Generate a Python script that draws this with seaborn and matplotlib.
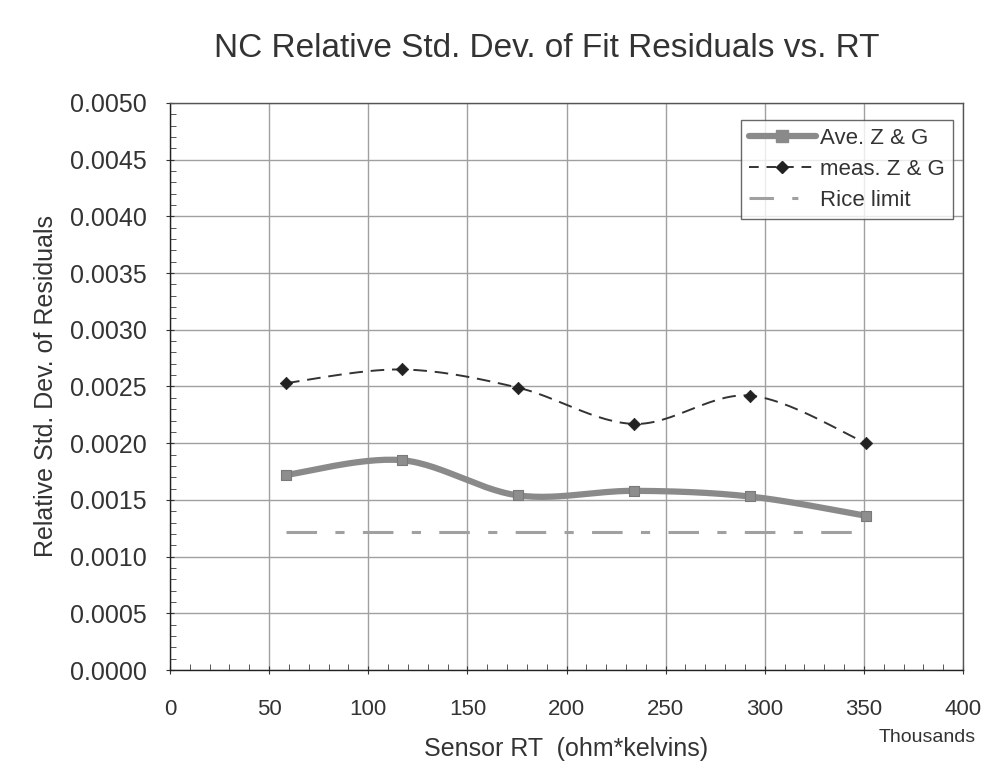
import numpy as np
import pandas as pd
import matplotlib
matplotlib.use("Agg")
import matplotlib.pyplot as plt
import seaborn as sns
from matplotlib.ticker import MultipleLocator, FormatStrFormatter

# Data (x in thousands of ohm*kelvins)
sensor_rt = [58.5, 117, 175.5, 234, 292.5, 351]
ave_zg = [0.00172, 0.00185, 0.00154, 0.00158, 0.00153, 0.00136]
meas_zg = [0.00253, 0.00265, 0.00249, 0.00217, 0.00242, 0.00200]
rice_x = [58.5, 351]
rice_limit = [0.00122, 0.00122]

sns.set_theme(style="white")
plt.rcParams['font.family'] = ['Liberation Sans', 'DejaVu Sans']


def smooth(xs, ys, n=30):
    # Catmull-Rom rendering of the polyline (like Excel "smoothed line")
    xs = np.asarray(xs, float); ys = np.asarray(ys, float)
    P = np.column_stack([xs, ys])
    P = np.vstack([P[0], P, P[-1]])
    out = []
    for i in range(1, len(P) - 2):
        p0, p1, p2, p3 = P[i - 1], P[i], P[i + 1], P[i + 2]
        t = np.linspace(0, 1, n)[:, None]
        seg = 0.5 * ((2 * p1) + (-p0 + p2) * t + (2 * p0 - 5 * p1 + 4 * p2 - p3) * t ** 2
                     + (-p0 + 3 * p1 - 3 * p2 + p3) * t ** 3)
        out.append(seg if i == 1 else seg[1:])
    out = np.vstack(out)
    return out[:, 0], out[:, 1]


fig = plt.figure(figsize=(9.81, 7.8), dpi=100)
ax = fig.add_axes([0.1733, 0.141, 0.8084, 0.727])

sx, sy = smooth(sensor_rt, ave_zg)
sns.lineplot(x=sx, y=sy, ax=ax, color="#8a8a8a", lw=4.5, sort=False, zorder=3)
sns.scatterplot(x=sensor_rt, y=ave_zg, ax=ax, marker="s", s=60, color="#8e8e8e",
                edgecolor="#7a7a7a", linewidth=0.8, zorder=4)

mx, my = smooth(sensor_rt, meas_zg)
sns.lineplot(x=mx, y=my, ax=ax, color="#333333", lw=1.4, sort=False, zorder=3)
ax.lines[-1].set_dashes([7, 4])
sns.scatterplot(x=sensor_rt, y=meas_zg, ax=ax, marker="D", s=40, color="#222222",
                edgecolor="#222222", zorder=4)

sns.lineplot(x=rice_x, y=rice_limit, ax=ax, color="#a0a0a0", lw=2.2, zorder=3)
ax.lines[-1].set_dashes([10, 6, 3, 6])

# Legend proxies
from matplotlib.lines import Line2D
handles = [
    Line2D([], [], color="#8a8a8a", lw=4.5, marker="s", markersize=9, markerfacecolor="#8a8a8a"),
    Line2D([], [], color="#333333", lw=1.4, ls=(0, (5, 4)), marker="D", markersize=6,
           markerfacecolor="#222222", markeredgecolor="#222222"),
    Line2D([], [], color="#a0a0a0", lw=2.2, ls=(0, (8, 6, 2, 6))),
]
labels = ["Ave. Z & G", "meas. Z & G", "Rice limit"]
leg = ax.legend(handles, labels, loc="upper right", bbox_to_anchor=(0.987, 0.97),
                fontsize=16, frameon=True, fancybox=False, handlelength=3.0,
                handletextpad=0.2, borderpad=0.35, labelspacing=0.45, borderaxespad=0)
leg.get_frame().set_edgecolor("#444444")
leg.get_frame().set_linewidth(1.0)
for t in leg.get_texts():
    t.set_color("#333333")

ax.set_xlim(0, 400)
ax.set_ylim(0, 0.005)
ax.xaxis.set_major_locator(MultipleLocator(50))
ax.xaxis.set_minor_locator(MultipleLocator(10))
ax.yaxis.set_major_locator(MultipleLocator(0.0005))
ax.yaxis.set_minor_locator(MultipleLocator(0.0001))
ax.yaxis.set_major_formatter(FormatStrFormatter("%.4f"))
ax.grid(True, which="major", color="#a0a0a0", lw=1.0)
ax.tick_params(which="major", direction="inout", length=6, width=0.8, colors="#333333",
               labelcolor="#333333", left=True, bottom=True)
ax.tick_params(which="minor", direction="in", length=4, width=0.7, colors="#555555",
               left=True, bottom=True)
ax.tick_params(axis="y", labelsize=18, pad=14)
ax.tick_params(axis="x", pad=18, labelsize=16)
for sp in ax.spines.values():
    sp.set_color("#555555")
    sp.set_linewidth(1.0)
ax.spines["left"].set_color("#222222")
ax.spines["bottom"].set_color("#222222")

fig.text(0.557, 0.938, "NC Relative Std. Dev. of Fit Residuals vs. RT", fontsize=24,
         color="#333333", ha="center", va="center")
ax.set_xlabel("Sensor RT  (ohm*kelvins)", fontsize=18, color="#333333", labelpad=12)
ax.set_ylabel("Relative Std. Dev. of Residuals", fontsize=18, color="#333333", labelpad=8)
fig.text(0.995, 0.055, "Thousands", fontsize=14, color="#333333",
         ha="right", va="center")

fig.savefig("out.png", dpi=100)
